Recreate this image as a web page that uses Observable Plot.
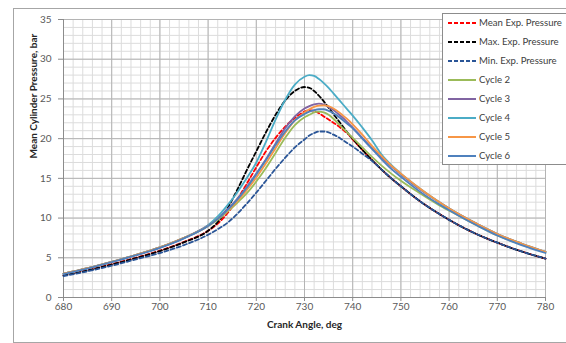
<!DOCTYPE html>
<html>
<head>
<meta charset="utf-8">
<script src="https://cdn.jsdelivr.net/npm/d3@7"></script>
<script src="https://cdn.jsdelivr.net/npm/@observablehq/plot@0.6"></script>
<style>
  html, body { margin: 0; padding: 0; background: #fff; overflow: hidden; }
  #wrap { position: relative; width: 566px; height: 343px; font-family: Lato, "Liberation Sans", sans-serif; }
  #frame { position: absolute; left: 13px; top: 8px; width: 570px; height: 333px; border: 1px solid #a6a6a6; pointer-events: none; }
  #legend { position: absolute; left: 442px; top: 13px; width: 130px; height: 150px; background: #fff; border: 1px solid #8c8c8c; }
  .item { position: absolute; left: 0; height: 16px; font-size: 9.6px; color: #404040; line-height: 16px; white-space: nowrap; }
  .item svg { position: absolute; left: 4px; top: 0; }
  .item span { position: absolute; left: 36px; top: 0; }
</style>
</head>
<body>
<div id="wrap"><div id="frame"></div></div>
<script>
const crank = [680,685,690,695,700,705,710,712,714,716,718,720,722,724,726,728,730,731,732,733,734,735,736,737,738,739,740,742,744,746,748,750,754,758,762,766,770,775,780];

const meanExp = [2.8,3.45,4.2,5.0,5.9,7.0,8.4,9.3,10.6,12.3,14.3,16.4,18.4,20.1,21.5,22.6,23.4,23.6,23.5,23.2,22.8,22.4,22.0,21.6,21.1,20.6,19.9,18.6,17.3,16.1,15.0,14.0,12.1,10.5,9.1,7.9,6.9,5.8,4.9];
const maxExp  = [2.8,3.4,4.15,4.95,5.85,6.95,8.4,9.5,11.2,13.5,16.0,18.4,20.8,23.0,24.8,26.0,26.5,26.4,26.0,25.4,24.7,23.9,23.1,22.3,21.5,20.7,20.0,18.6,17.3,16.1,15.0,14.0,12.1,10.5,9.1,7.9,6.9,5.8,4.9];
const minExp  = [2.7,3.3,4.0,4.8,5.6,6.6,7.9,8.6,9.4,10.5,11.8,13.2,14.7,16.2,17.6,18.9,19.9,20.4,20.7,20.9,20.9,20.8,20.5,20.2,19.8,19.4,19.0,18.1,17.2,16.1,15.0,14.0,12.1,10.5,9.1,7.9,6.9,5.8,4.9];
const cycle2  = [3.0,3.7,4.5,5.35,6.3,7.5,9.0,9.8,10.8,11.9,13.1,14.6,16.3,18.2,20.1,21.7,22.7,23.0,23.3,23.4,23.3,23.0,22.5,21.9,21.3,20.7,20.1,18.9,17.7,16.6,15.6,14.7,13.1,11.6,10.3,9.0,7.8,6.7,5.7];
const cycle3  = [3.0,3.7,4.5,5.35,6.3,7.5,9.1,10.0,11.1,12.4,13.9,15.6,17.4,19.4,21.3,22.8,23.8,24.1,24.3,24.4,24.3,24.0,23.6,23.1,22.6,22.0,21.4,20.1,18.8,17.6,16.5,15.5,13.6,12.0,10.5,9.2,8.0,6.8,5.75];
const cycle4  = [3.0,3.7,4.5,5.35,6.3,7.5,9.1,10.2,11.6,13.2,15.0,17.0,19.6,22.4,24.9,26.8,27.8,28.0,27.9,27.5,27.0,26.4,25.7,25.0,24.3,23.6,22.9,21.4,19.8,18.0,16.7,15.6,13.7,12.0,10.5,9.2,8.0,6.8,5.75];
const cycle5  = [3.0,3.7,4.5,5.35,6.3,7.5,9.0,9.9,10.9,12.1,13.5,15.1,16.9,18.8,20.7,22.3,23.3,23.7,24.0,24.15,24.2,24.1,23.8,23.4,22.9,22.4,21.8,20.5,19.1,17.8,16.6,15.6,13.7,12.0,10.5,9.2,8.0,6.8,5.75];
const cycle6  = [2.95,3.65,4.45,5.3,6.25,7.45,9.0,9.9,11.0,12.3,13.8,15.5,17.3,19.2,20.9,22.3,23.1,23.4,23.6,23.7,23.7,23.5,23.2,22.8,22.3,21.8,21.3,20.0,18.7,17.4,16.2,15.2,13.3,11.7,10.3,9.0,7.8,6.6,5.6];

const seriesNames = ["Mean Exp. Pressure","Max. Exp. Pressure","Min. Exp. Pressure","Cycle 2","Cycle 3","Cycle 4","Cycle 5","Cycle 6"];
const seriesValues = [meanExp, maxExp, minExp, cycle2, cycle3, cycle4, cycle5, cycle6];
const seriesColors = ["#ff0000","#000000","#2a5597","#9bbb59","#8064a2","#4bacc6","#f79646","#4f81bd"];
const seriesDashed = [true,true,true,false,false,false,false,false];

const xTicks = [680,690,700,710,720,730,740,750,760,770,780];
const yTicks = [0,5,10,15,20,25,30,35];
const xMinor = d3.range(680, 781, 2);
const yMinor = d3.range(0, 36, 1);

const lineMarks = seriesNames.map((name, i) => {
  const rows = crank.map((c, j) => ({crank: c, p: seriesValues[i][j]}));
  return Plot.line(rows, {
    x: "crank", y: "p", curve: "monotone-x",
    stroke: seriesColors[i], strokeWidth: 1.8,
    strokeDasharray: seriesDashed[i] ? "4,2.5" : null
  });
});

const chart = Plot.plot({
  width: 566, height: 343,
  marginLeft: 63, marginRight: 21, marginTop: 19, marginBottom: 46,
  x: {domain: [680, 780]},
  y: {domain: [0, 35]},
  style: {fontFamily: "Lato, 'Liberation Sans', sans-serif", fontSize: "10px", color: "#595959", background: "transparent"},
  marks: [
    Plot.ruleX(xMinor, {stroke: "#dcdcdc", strokeWidth: 1}),
    Plot.ruleY(yMinor, {stroke: "#dcdcdc", strokeWidth: 1}),
    Plot.ruleX(xTicks, {stroke: "#b4b4b4", strokeWidth: 1}),
    Plot.ruleY(yTicks, {stroke: "#b4b4b4", strokeWidth: 1}),
    Plot.ruleY([0], {stroke: "#8c8c8c"}),
    Plot.ruleX([680], {stroke: "#8c8c8c"}),
    Plot.axisX({ticks: xTicks, tickSize: 4, tickPadding: 1, label: null, tickFormat: d => String(d), stroke: "#8c8c8c"}),
    Plot.axisY({ticks: yTicks, tickSize: 5, tickPadding: 7, label: null, tickFormat: d => String(d), stroke: "#8c8c8c"}),
    ...lineMarks,
    Plot.text(["Crank Angle, deg"], {frameAnchor: "bottom", dy: 30, text: d => d, fontWeight: "bold", fill: "#262626", fontSize: 10}),
    Plot.text(["Mean Cylinder Pressure, bar"], {frameAnchor: "left", dx: -30, rotate: -90, text: d => d, fontWeight: "bold", fill: "#262626", fontSize: 10})
  ]
});
chart.style.position = "absolute";
chart.style.left = "0px";
chart.style.top = "0px";
const wrap = document.getElementById("wrap");
wrap.insertBefore(chart, wrap.firstChild);

const legend = document.createElement("div");
legend.id = "legend";
seriesNames.forEach((name, i) => {
  const item = document.createElement("div");
  item.className = "item";
  item.style.top = (1 + i * 19) + "px";
  const dash = seriesDashed[i] ? ' stroke-dasharray="4,2"' : '';
  item.innerHTML = `<svg width="30" height="16"><line x1="1" x2="29" y1="8" y2="8" stroke="${seriesColors[i]}" stroke-width="2"${dash}/></svg><span>${name}</span>`;
  legend.appendChild(item);
});
wrap.appendChild(legend);
</script>
</body>
</html>
